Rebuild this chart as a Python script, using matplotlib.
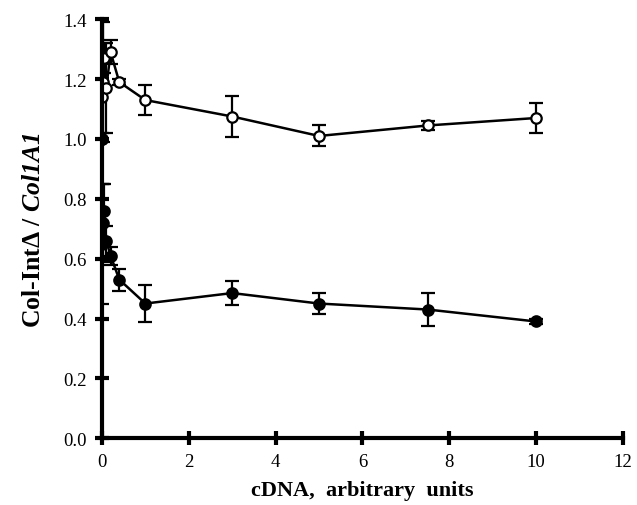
import numpy as np
from matplotlib import pyplot as plt

# open circles
open_x = [0, 0.01, 0.03, 0.05, 0.1, 0.2, 0.4, 1, 3, 5, 7.5, 10]
open_y = [1.0, 1.14, 1.19, 1.27, 1.17, 1.29, 1.19, 1.13, 1.075, 1.01, 1.045, 1.07]
open_err = [0, 0.12, 0.2, 0.05, 0.15, 0.04, 0.01, 0.05, 0.07, 0.035, 0.015, 0.05]

# filled circles
fill_x = [0, 0.01, 0.03, 0.05, 0.1, 0.2, 0.4, 1, 3, 5, 7.5, 10]
fill_y = [1.0, 0.65, 0.72, 0.76, 0.66, 0.61, 0.53, 0.45, 0.485, 0.45, 0.43, 0.39]
fill_err = [0, 0.2, 0.13, 0.09, 0.05, 0.03, 0.037, 0.062, 0.04, 0.035, 0.055, 0.01]

x_ticks = [0, 2, 4, 6, 8, 10, 12]
y_ticks = [0.0, 0.2, 0.4, 0.6, 0.8, 1.0, 1.2, 1.4]

plt.rcParams['font.family'] = ['Liberation Serif', 'DejaVu Serif']
plt.rcParams['mathtext.fontset'] = 'custom'
plt.rcParams['mathtext.rm'] = 'Liberation Serif'
plt.rcParams['mathtext.it'] = 'Liberation Serif:italic'
plt.rcParams['mathtext.bf'] = 'Liberation Serif:bold'
plt.rcParams['mathtext.bfit'] = 'Liberation Serif:italic:bold'

fig = plt.figure(figsize=(6.37, 5.06), dpi=100)
ax = fig.add_axes([0.160, 0.132, 0.818, 0.828])

ax.errorbar(open_x, open_y, yerr=open_err, color='black', lw=1.8, elinewidth=1.6,
            capsize=5, capthick=1.6, marker='o', ms=7.5, mfc='white', mec='black', mew=1.6)
ax.errorbar(fill_x, fill_y, yerr=fill_err, color='black', lw=1.8, elinewidth=1.6,
            capsize=5, capthick=1.6, marker='o', ms=7.5, mfc='black', mec='black', mew=1.6)

ax.set_xlim(0, 12)
ax.set_ylim(0, 1.4)
ax.set_xticks(x_ticks)
ax.set_yticks(y_ticks)
ax.set_yticklabels(['%.1f' % v for v in y_ticks])
ax.spines['top'].set_visible(False)
ax.spines['right'].set_visible(False)
ax.spines['left'].set_linewidth(3)
ax.spines['bottom'].set_linewidth(3)
ax.tick_params(direction='inout', length=10, width=3, labelsize=13.5, pad=6)

ax.set_xlabel('cDNA,  arbitrary  units', fontsize=16, fontweight='bold', labelpad=7)
ax.set_ylabel('Col-Int\u0394 / $\\mathbfit{Col1A1}$', fontsize=18.5,
              fontweight='bold', labelpad=13)

fig.savefig('out.png', dpi=100)
